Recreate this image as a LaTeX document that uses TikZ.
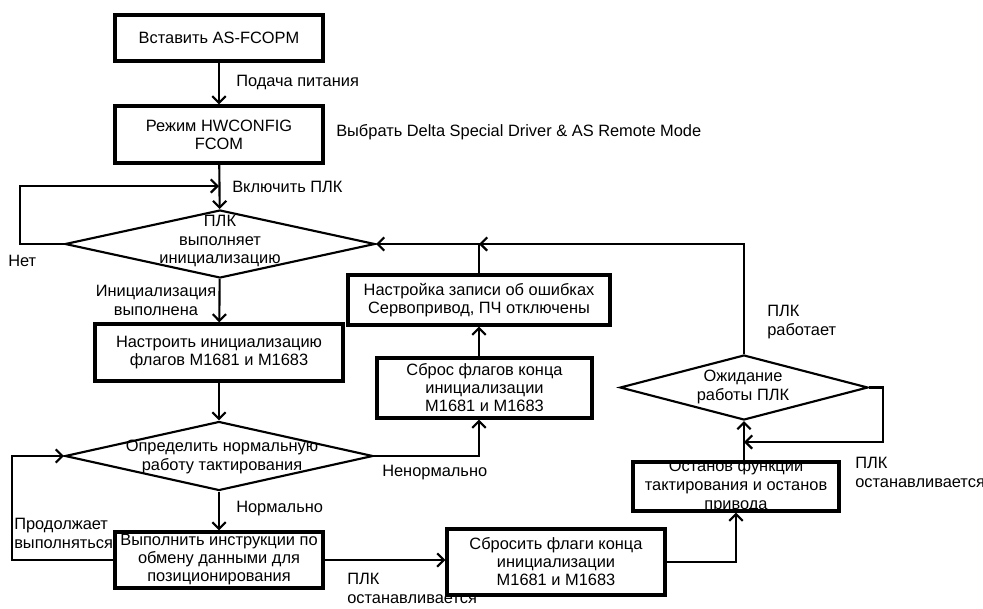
\documentclass[tikz,border=0pt]{standalone}
\usepackage{fontspec}
\setmainfont{Liberation Sans}
\usepackage{tikz}
\usetikzlibrary{positioning, shapes.geometric, arrows.meta}

\begin{document}
\begin{tikzpicture}[x=0.75pt, y=-0.75pt,
        box/.style={draw, line width=2.5pt, inner sep=0pt, align=center, font=\fontsize{12.3}{13.5}\selectfont},
        decide/.style={diamond, draw, line width=1.6pt, inner sep=0pt},
        txt/.style={inner sep=0pt, align=center, font=\fontsize{12.3}{14.2}\selectfont},
        lbl/.style={inner sep=0pt, align=left, anchor=west, font=\fontsize{12.3}{14.2}\selectfont},
        flow/.style={line width=1.6pt, -{Straight Barb[length=5pt, width=10pt, line width=1.6pt]}}
    ]
    \useasboundingbox (0,0) rectangle (983,608);

    % left column
    \node[box, minimum width=156pt, minimum height=34.5pt] (insert) at (219,38) {Вставить AS-FCOPM};
    \node[box, minimum width=156pt, minimum height=42.75pt] (hwcfg) at (219,134.5) {Режим HWCONFIG\\FCOM};
    \node[decide, minimum width=232.5pt, minimum height=51pt] (init) at (220,244) {};
    \node[txt] (initT) at (220,241) {ПЛК\\выполняет\\инициализацию};
    \node[box, minimum width=186pt, minimum height=42.75pt] (setflags) at (219,352.5) {Настроить инициализацию\\флагов M1681 и M1683};
    \node[decide, minimum width=231pt, minimum height=51.75pt] (check) at (219,456) {};
    \node[txt] (checkT) at (222,457) {Определить нормальную\\работу тактирования};
    \node[box, minimum width=156pt, minimum height=42pt] (exec) at (219,560) {Выполнить инструкции по\\обмену данными для\\позиционирования};

    % middle and right
    \node[box, minimum width=196.5pt, minimum height=37.5pt] (errlog) at (479,300) {Настройка записи об ошибках\\Сервопривод, ПЧ отключены};
    \node[box, minimum width=161.25pt, minimum height=45pt] (rstA) at (484.5,388) {Сброс флагов конца\\инициализации\\ M1681 и M1683};
    \node[box, minimum width=163.5pt, minimum height=49.5pt] (rstB) at (556,562) {Сбросить флаги конца\\инициализации\\ M1681 и M1683};
    \node[box, minimum width=154.5pt, minimum height=36.75pt] (halt) at (736,486.5) {};
    \begin{scope}
        \clip (halt.south west) rectangle (halt.north east);
        \node[txt] (haltT) at (736,486) {Останов функции\\тактирования и останов\\привода};
    \end{scope}
    \node[decide, minimum width=186pt, minimum height=48.75pt] (wait) at (744,387.5) {};
    \node[txt] (waitT) at (743,387) {Ожидание\\работы ПЛК};

    \coordinate (topL) at (20,186);
    \coordinate (onIn) at (219,186);
    \coordinate (botL) at (12,456);
    \coordinate (loopR) at (883,442);

    % connectors
    \draw[flow] (insert) -- (hwcfg);
    \draw[flow] (hwcfg) -- (init);
    \draw[flow] (init.west) -| (topL) -- (onIn);
    \draw[flow] (init) -- (setflags);
    \draw[flow] (setflags) -- (check);
    \draw[flow] (check) -- (exec);
    \draw[flow] (exec.west) -| (botL) -- (check.west);
    \draw[flow] (exec.east) -- (exec.east -| rstB.west);
    \draw[flow] (rstB.east) -| (halt.south);
    \draw[flow] (wait.south |- halt.north) -- (wait.south);
    \draw[flow] (wait.east) -| (loopR) -- (loopR -| wait.south);
    \draw[flow] (wait.north) |- (errlog.north |- init.east);
    \draw[flow] (errlog.north) |- (init.east);
    \draw[flow] (errlog.south |- rstA.north) -- (errlog.south);
    \draw[flow] (check.east) -| (errlog.south |- rstA.south);

    % labels
    \node[lbl] (lPower) at (236,82) {Подача питания};
    \node[lbl] (lSelect) at (336,132) {Выбрать Delta Special Driver \& AS Remote Mode};
    \node[lbl] (lOn) at (232,187) {Включить ПЛК};
    \node[lbl] (lNo) at (8,261) {Нет};
    \node[txt] (lDone) at (156,300) {Инициализация\\выполнена};
    \node[lbl] (lNorm) at (236,509) {Нормально};
    \node[lbl] (lAbn) at (382,473) {Ненормально};
    \node[lbl] (lCont) at (14,533) {Продолжает\\выполняться};
    \node[lbl] (lStopA) at (347,588) {ПЛК\\останавливается};
    \node[lbl] (lRun) at (767,322) {ПЛК\\работает};
    \node[lbl] (lStopB) at (855,472) {ПЛК\\останавливается};
\end{tikzpicture}
\end{document}
